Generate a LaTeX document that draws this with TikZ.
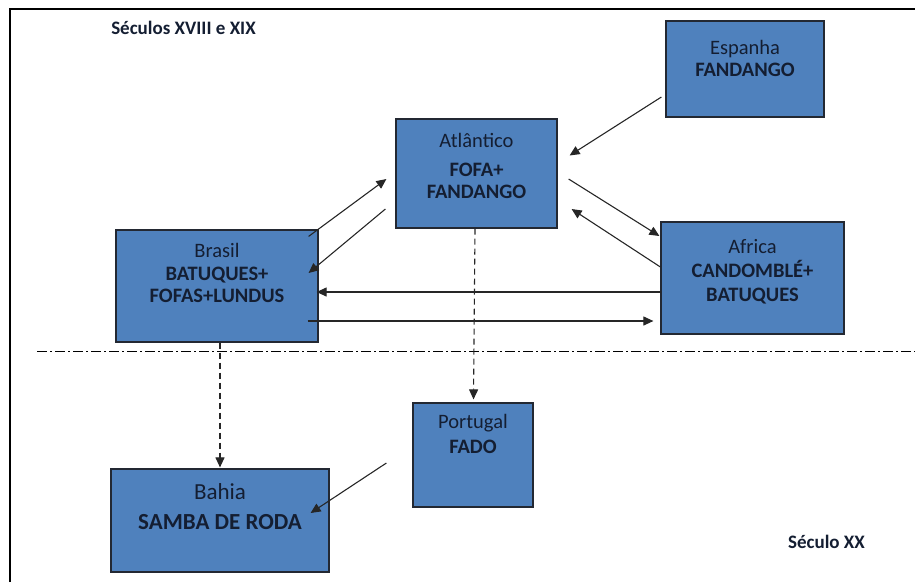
\documentclass[tikz,border=0pt]{standalone}
\usepackage{fontspec}
\setmainfont{Carlito}
\usetikzlibrary{arrows.meta}
\definecolor{boxblue}{RGB}{79,129,189}
\definecolor{boxline}{RGB}{35,40,50}
\definecolor{txtdark}{RGB}{20,30,50}

\begin{document}
\begin{tikzpicture}[x=1pt,y=-1pt,line cap=butt,
  box/.style={draw=boxline,fill=boxblue,line width=1.2pt,inner sep=0pt},
  boxtxt/.style={anchor=base,align=center,inner sep=0pt,text=txtdark,font=\fontsize{20.5}{23}\selectfont},
  arr/.style={-{Triangle[length=10pt,width=9pt]},line width=1.1pt,draw=black!85},
  darr/.style={arr,dash pattern=on 6pt off 4pt},
  head/.style={anchor=base,inner sep=0pt,text=txtdark,font=\fontsize{19}{23}\selectfont\bfseries}]
\useasboundingbox (0,0) rectangle (915,582);
\draw[line width=1.3pt] (10,582) -- (10,9) -- (915,9);
\draw[line width=1pt,dash pattern=on 10pt off 3pt on 2pt off 3pt] (37,351) -- (915,351);

\node[head] (tSeculos) at (183.5,34) {Séculos XVIII e XIX};
\node[head] (tSeculo) at (826.5,548) {Século XX};

\node[box,minimum width=158pt,minimum height=96pt] (espanha) at (745,69) {};
\node[box,minimum width=161pt,minimum height=109pt] (atlantico) at (476.5,173.5) {};
\node[box,minimum width=202pt,minimum height=112pt] (brasil) at (217,286) {};
\node[box,minimum width=183pt,minimum height=112pt] (africa) at (752.5,278) {};
\node[box,minimum width=120pt,minimum height=104pt] (portugal) at (473,455) {};
\node[box,minimum width=218pt,minimum height=103pt] (bahia) at (220,520.5) {};

% base of each text node is the baseline of its last line
\node[boxtxt] (tEspanha) at ([yshift=-56pt]espanha.north) {Espanha\\[-1pt]\textbf{FANDANGO}};
\node[boxtxt] (tAtlantico) at ([yshift=-80pt]atlantico.north) {Atlântico\\[6pt]\textbf{FOFA+}\\[-1pt]\textbf{FANDANGO}};
\node[boxtxt] (tBrasil) at ([yshift=-73pt]brasil.north) {Brasil\\\textbf{BATUQUES+}\\[-1pt]\textbf{FOFAS+LUNDUS}};
\node[boxtxt] (tAfrica) at ([yshift=-80pt]africa.north) {Africa\\[1pt]\textbf{CANDOMBLÉ+}\\[1pt]\textbf{BATUQUES}};
\node[boxtxt] (tPortugal) at ([yshift=-51pt]portugal.north) {Portugal\\[2pt]\textbf{FADO}};
\node[boxtxt,font=\fontsize{23}{30}\selectfont] (tBahia) at ([yshift=-61pt]bahia.north) {Bahia\\\textbf{SAMBA DE RODA}};

\draw[arr] ([xshift=-4pt,yshift=-28pt]espanha.west) -- ([xshift=12pt,yshift=18pt]atlantico.east);
\draw[arr] ([xshift=-10pt,yshift=-7pt]brasil.north east) -- ([xshift=-9pt,yshift=-5.5pt]atlantico.west);
\draw[arr] ([xshift=-10pt,yshift=-35.5pt]atlantico.west) -- ([xshift=-10pt,yshift=13pt]brasil.east);
\draw[arr] ([xshift=11pt,yshift=-5.5pt]atlantico.east) -- ([xshift=-1pt,yshift=42pt]africa.west);
\draw[arr] ([yshift=11pt]africa.west) -- ([xshift=14pt,yshift=-35.5pt]atlantico.east);
\draw[arr] ([xshift=1pt,yshift=-14pt]africa.west) -- ([xshift=-2pt,yshift=-6pt]brasil.east);
\draw[arr] ([xshift=-11pt,yshift=-35pt]brasil.east) -- ([xshift=-7pt,yshift=-43pt]africa.west);
\draw[darr] ([xshift=-1.5pt]atlantico.south) -- ([xshift=0.5pt,yshift=3pt]portugal.north);
\draw[darr] ([xshift=3pt]brasil.south) -- ([yshift=1pt]bahia.north);
\draw[arr] ([xshift=-26pt,yshift=-8pt]portugal.west) -- ([xshift=-19pt,yshift=7.5pt]bahia.east);
\end{tikzpicture}
\end{document}
